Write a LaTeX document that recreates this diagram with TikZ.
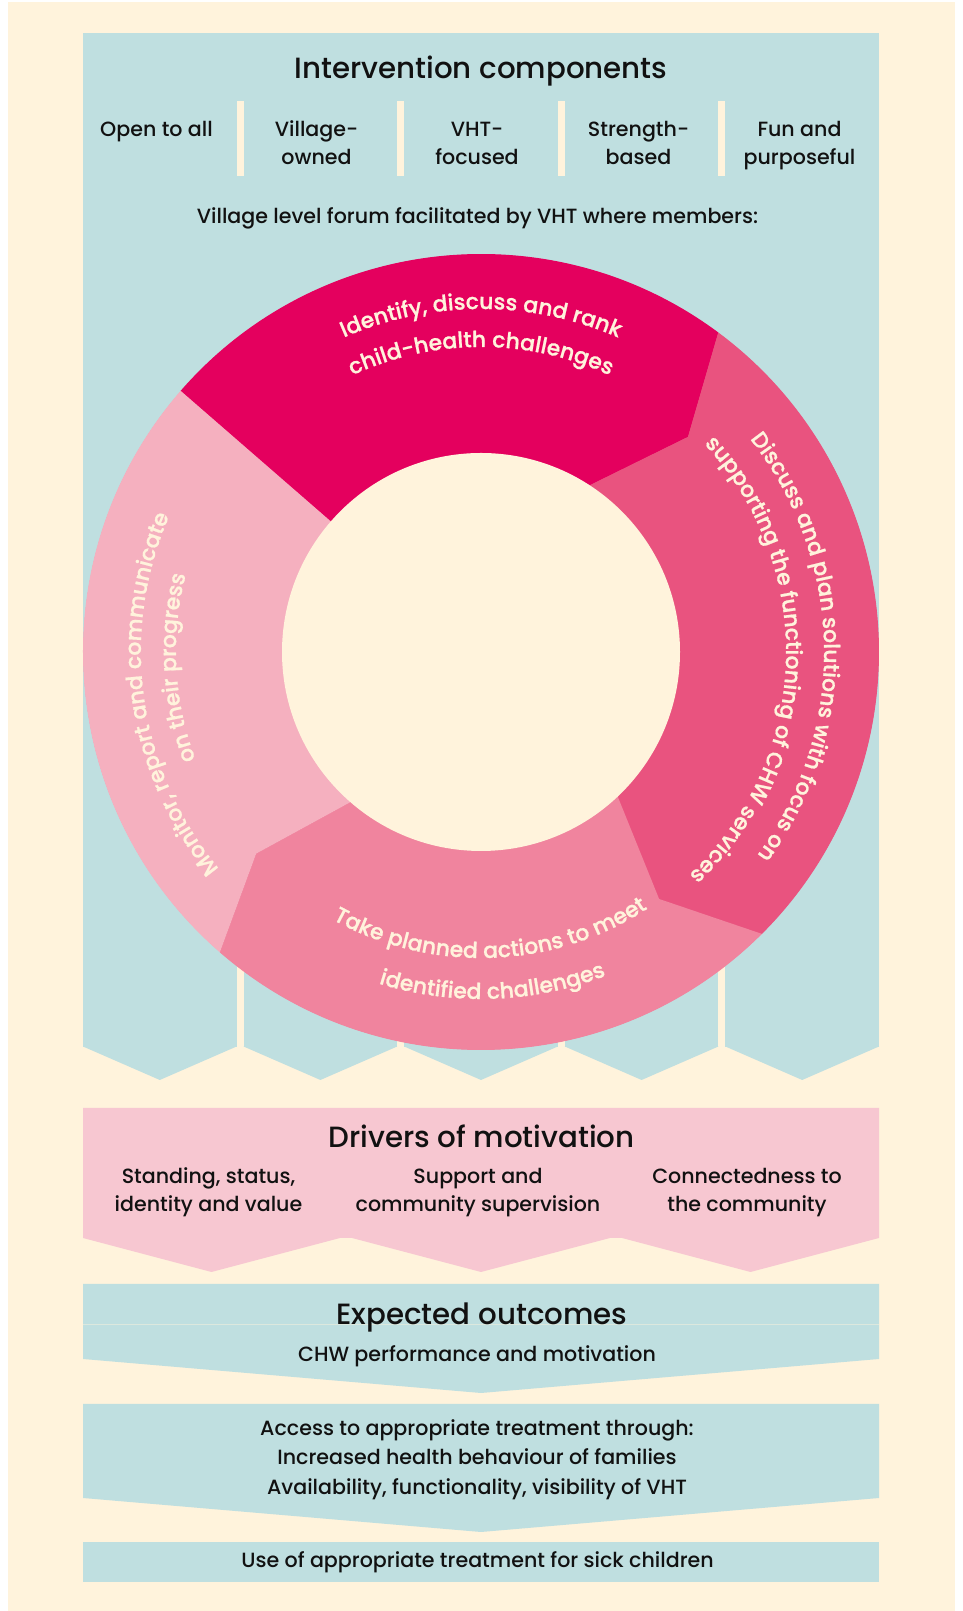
\documentclass[tikz,border=0pt]{standalone}
\usepackage{fontspec}
\usetikzlibrary{calc,decorations.text}
\IfFontExistsTF{Poppins Medium}{\setmainfont{Poppins Medium}\newfontfamily\ringfont{Poppins Medium}[FakeBold=0.8]}{\setmainfont{Poppins}\newfontfamily\ringfont{Poppins}[FakeBold=1.2]}
\definecolor{cream}{HTML}{FFF3DC}
\definecolor{tealc}{HTML}{BFDFE0}
\definecolor{pinkbox}{HTML}{F7C7D1}
\definecolor{segA}{HTML}{E4005E}
\definecolor{segB}{HTML}{E9537F}
\definecolor{segC}{HTML}{F0849E}
\definecolor{segD}{HTML}{F5B0BF}
\definecolor{ink}{HTML}{111111}
\newcommand\ringfnt{\ringfont\fontsize{22}{27}\selectfont}
\newcommand\bodyfnt{\fontsize{20.6}{28}\selectfont}
\newcommand\headfnt{\fontsize{29.3}{34}\selectfont}
\begin{document}
\begin{tikzpicture}[x=1pt,y=1pt,
  txt/.style={inner sep=0pt, anchor=base, text=ink, font=\bodyfnt},
  head/.style={inner sep=0pt, anchor=base, text=ink, font=\headfnt},
  ringtxt/.style={decorate, decoration={text along path, text align=center,
     text color=cream, text={|\ringfnt|#1}}}]
\useasboundingbox (0,0) rectangle (963,1611);
\fill[white] (0,0) rectangle (963,1611);
\fill[cream] (8,0) rectangle (955,1609);

% ---- intervention panel
\fill[tealc] (83,564) rectangle (879,1578);
\foreach \x in {236.6,397.2,557.8,718.4}{
  \fill[cream] (\x,1435) rectangle ++(7,75);
  \fill[cream] (\x,560) rectangle ++(7,399);
}
\foreach \l in {83,243.6,404.2,564.8,725.4}
  \fill[tealc] (\l,564.5) -- (\l+76.8,531) -- (\l+153.6,564.5) -- cycle;

% ---- ring
\coordinate (O) at (481,959);
\coordinate (A1) at ($(O)+(139:398)$);
\coordinate (B1) at ($(O)+(53.4:398)$);
\coordinate (B2) at ($(O)+(46.1:298.5)$);
\coordinate (B3) at ($(O)+(56.9:199)$);
\coordinate (C1) at ($(O)+(-45.1:398)$);
\coordinate (C2) at ($(O)+(-54.2:304.5)$);
\coordinate (C3) at ($(O)+(-46.6:199)$);
\coordinate (D1) at ($(O)+(-131:398)$);
\coordinate (D2) at ($(O)+(221.9:302)$);
\coordinate (D3) at ($(O)+(-131:199)$);
\fill[segB] (O) circle (397.5);
\fill[segA] (A1) arc[start angle=139, end angle=53.4, radius=398] -- (B2) -- (B3) -- (O) -- cycle;
\fill[segB] (B1) arc[start angle=53.4, end angle=-45.1, radius=398] -- (C2) -- (C3) -- (O) -- (B3) -- (B2) -- cycle;
\fill[segC] (C1) arc[start angle=-45.1, end angle=-131, radius=398] -- (D2) -- (D3) -- (O) -- (C3) -- (C2) -- cycle;
\fill[segD] (D1) arc[start angle=229, end angle=139, radius=398] -- (O) -- (D3) -- (D2) -- cycle;
\fill[cream] (O) circle (199);

\path[ringtxt={Identify, discuss and rank}] (O) ++(130:343) arc[start angle=130, end angle=50, radius=343];
\path[ringtxt={child-health challenges}] (O) ++(130:305) arc[start angle=130, end angle=50, radius=305];
\path[ringtxt={Discuss and plan solutions with focus on}] (O) ++(61:343) arc[start angle=61, end angle=-59, radius=343];
\path[ringtxt={supporting the functioning of CHW services}] (O) ++(63:305) arc[start angle=63, end angle=-67, radius=305];
\path[ringtxt={Take planned actions to meet}] (O) ++(-148:306) arc[start angle=-148, end angle=-28, radius=306];
\path[ringtxt={identified challenges}] (O) ++(-138:347) arc[start angle=-138, end angle=-38, radius=347];
\path[ringtxt={Monitor, report and communicate}] (O) ++(248:340) arc[start angle=248, end angle=128, radius=340];
\path[ringtxt={on their progress}] (O) ++(243:305) arc[start angle=243, end angle=123, radius=305];

% ---- panel texts
\node[head] (t1) at (481,1532.7) {Intervention components};
\node[txt] (h1) at (156.5,1474.3) {Open to all};
\node[txt] (h2a) at (316.5,1474.3) {Village-};
\node[txt] (h2b) at (316.5,1446) {owned};
\node[txt] (h3a) at (477,1474.3) {VHT-};
\node[txt] (h3b) at (477,1446) {focused};
\node[txt] (h4a) at (638.5,1474.3) {Strength-};
\node[txt] (h4b) at (638.5,1446) {based};
\node[txt] (h5a) at (799.5,1474.3) {Fun and};
\node[txt] (h5b) at (799.5,1446) {purposeful};
\node[txt] (forum) at (477.5,1387) {Village level forum facilitated by VHT where members:};

% ---- drivers
\fill[pinkbox] (83,503) -- (879,503) -- (879,373) -- (750.5,339) -- (622,373) -- (610,373) -- (481,339) -- (352,373) -- (340,373) -- (211.5,339) -- (83,373) -- cycle;
\node[head] (t2) at (481.6,463.3) {Drivers of motivation};
\node[txt] (d1a) at (208.5,427.7) {Standing, status,};
\node[txt] (d1b) at (208.5,399) {identity and value};
\node[txt] (d2a) at (478,427.7) {Support and};
\node[txt] (d2b) at (478,399) {community supervision};
\node[txt] (d3a) at (747,427.7) {Connectedness to};
\node[txt] (d3b) at (747,399) {the community};

% ---- outcomes
\fill[tealc] (83,327) -- (879,327) -- (879,252) -- (481,218) -- (83,252) -- cycle;
\draw[line width=0.8pt, tealc!55!cream] (83,287) -- (879,287);
\fill[tealc] (83,207) -- (879,207) -- (879,113) -- (481,79) -- (83,113) -- cycle;
\fill[tealc] (83,29) rectangle (879,69);
\node[head] (t3) at (482,286) {Expected outcomes};
\node[txt] (o1) at (477,249.3) {CHW performance and motivation};
\node[txt] (o2a) at (477,175) {Access to appropriate treatment through:};
\node[txt] (o2b) at (477,146) {Increased health behaviour of families};
\node[txt] (o2c) at (477,116.7) {Availability, functionality, visibility of VHT};
\node[txt] (o3) at (477.6,43.3) {Use of appropriate treatment for sick children};
\end{tikzpicture}
\end{document}
